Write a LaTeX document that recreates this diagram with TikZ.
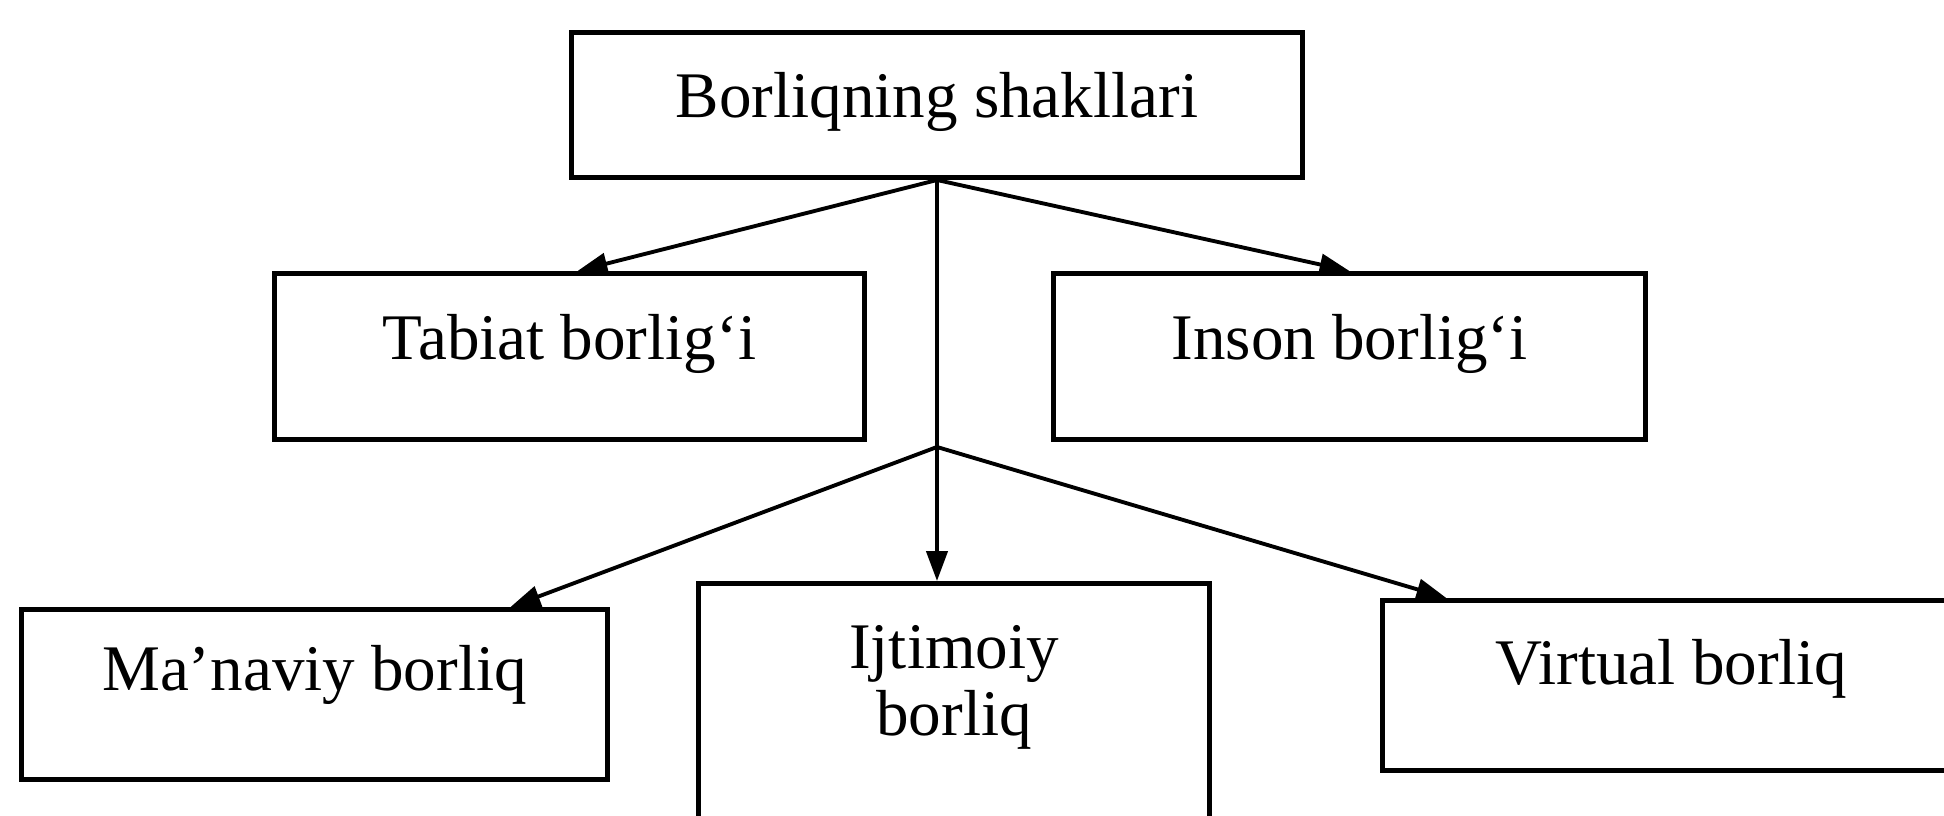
\documentclass[tikz,border=0pt]{standalone}
\usepackage{fontspec}
\setmainfont{Liberation Serif}
\usetikzlibrary{arrows.meta,calc}
\tikzset{
	formbox/.style={draw, line width=1.4pt, anchor=north, inner xsep=0pt, inner ysep=0pt,
		font=\fontsize{18.5}{19}\selectfont},
	formarrow/.style={line width=1.1pt, -{Triangle[length=8.5pt,width=6pt]}}
}
\begin{document}
\begin{tikzpicture}[x=0.01cm, y=-0.01cm]
	\useasboundingbox (0,0) rectangle (1944,816);
	\clip (0,0) rectangle (1944,816);
	\node[formbox, minimum width=7.31cm, text height=0.85cm, text depth=0.60cm] (shakllar) at (937,30) {Borliqning shakllari};
	\node[formbox, minimum width=5.89cm, text height=0.86cm, text depth=0.80cm] (tabiat) at (569.5,271) {Tabiat borlig‘i};
	\node[formbox, minimum width=5.91cm, text height=0.86cm, text depth=0.80cm] (inson) at (1349.5,271) {Inson borlig‘i};
	\node[formbox, minimum width=5.85cm, text height=0.81cm, text depth=0.89cm] (manaviy) at (314.5,607) {Ma’naviy borliq};
	\node[formbox, minimum width=5.10cm, text height=0.85cm, text depth=1.94cm] (ijtimoiy) at (954,581) {\begin{tabular}[t]{@{}c@{}}Ijtimoiy\\ borliq\end{tabular}};
	\node[formbox, minimum width=5.77cm, text height=0.84cm, text depth=0.86cm] (virtual) at (1671.5,598) {Virtual borliq};

	\coordinate (split1) at (shakllar.south);
	\coordinate (split2) at ($(split1)+(0,267)$);
	\draw[formarrow] (split1) -- ($(tabiat.north)+(8,0)$);
	\draw[formarrow] (split1) -- (inson.north);
	\draw[formarrow] (split1) -- (split1 |- ijtimoiy.north);
	\draw[formarrow] (split2) -- ($(manaviy.north)+(196,0)$);
	\draw[formarrow] (split2) -- ($(virtual.north west)+(66,0)$);
\end{tikzpicture}
\end{document}
